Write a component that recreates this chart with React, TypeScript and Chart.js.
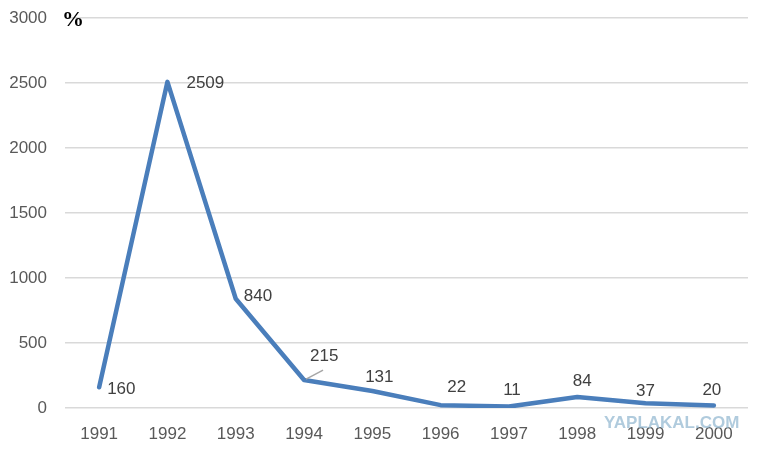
import React, { useEffect, useRef } from "react";
import { Chart, registerables } from "chart.js";

Chart.register(...registerables);

const years = ["1991", "1992", "1993", "1994", "1995", "1996", "1997", "1998", "1999", "2000"];
const values = [160, 2509, 840, 215, 131, 22, 11, 84, 37, 20];
const yTicks = [0, 500, 1000, 1500, 2000, 2500, 3000];
const unitLabel = "%";
const watermark = "YAPLAKAL.COM";

// label placement styles: [dx, dy, align, leader]
const labelStyle: [number, number, CanvasTextAlign, boolean][] = [
  [8, 2, "left", false],
  [19, 1, "left", false],
  [8, -2, "left", false],
  [6, -24, "left", true],
  [7, -14, "center", false],
  [16, -18, "center", false],
  [3, -16, "center", false],
  [5, -16, "center", false],
  [0, -12, "center", false],
  [-2, -15, "center", false],
];

const FONT = "'Liberation Sans', Arial, sans-serif";

const labelPlugin = {
  id: "pointLabels",
  afterDatasetsDraw(chart: any) {
    const ctx = chart.ctx;
    const meta = chart.getDatasetMeta(0);
    ctx.save();
    ctx.font = `17px ${FONT}`;
    ctx.fillStyle = "#404040";
    ctx.textBaseline = "middle";
    meta.data.forEach((pt: any, i: number) => {
      const [dx, dy, align, leader] = labelStyle[i];
      if (leader) {
        ctx.strokeStyle = "#a6a6a6";
        ctx.lineWidth = 1.5;
        ctx.beginPath();
        ctx.moveTo(pt.x + 2, pt.y - 1);
        ctx.lineTo(pt.x + 19, pt.y - 10);
        ctx.stroke();
      }
      ctx.textAlign = align;
      ctx.fillText(String(values[i]), pt.x + dx, pt.y + dy);
    });
    const ca = chart.chartArea;
    ctx.font = `bold 22px 'Liberation Serif', serif`;
    ctx.fillStyle = "#000";
    ctx.textAlign = "left";
    ctx.fillText(unitLabel, ca.left - 3, ca.top + 2);
    ctx.font = `bold 17px ${FONT}`;
    ctx.fillStyle = "rgba(150,185,210,0.75)";
    ctx.textAlign = "left";
    ctx.fillText(watermark, 604, 423);
    ctx.restore();
  },
};

export default function App() {
  const ref = useRef<HTMLCanvasElement>(null);
  useEffect(() => {
    document.body.style.margin = "0";
    const chart = new Chart(ref.current!, {
      type: "line",
      data: {
        labels: years,
        datasets: [
          {
            data: values,
            borderColor: "#4a7ebb",
            borderWidth: 4.5,
            pointRadius: 0,
            tension: 0,
            borderCapStyle: "round",
            borderJoinStyle: "round",
          },
        ],
      },
      options: {
        animation: false,
        responsive: false,
        layout: { padding: { left: 0, right: 19, top: 18, bottom: 0 } },
        plugins: { legend: { display: false }, tooltip: { enabled: false } },
        scales: {
          x: {
            offset: true,
            grid: { display: false, drawTicks: false },
            border: { display: false },
            ticks: { color: "#595959", font: { family: FONT, size: 17 }, padding: 16 },
            afterFit: (s: any) => {
              s.height = 45;
            },
          },
          y: {
            min: 0,
            max: 3000,
            afterBuildTicks: (s: any) => {
              s.ticks = yTicks.map((v) => ({ value: v }));
            },
            grid: { color: "#d9d9d9", lineWidth: 1.5, drawTicks: false },
            border: { display: false },
            ticks: {
              color: "#595959",
              font: { family: FONT, size: 17 },
              padding: 18,
              callback: (v: any) => String(v),
            },
            afterFit: (s: any) => {
              s.width = 65;
              s.paddingTop = 0;
            },
          },
        },
      },
      plugins: [labelPlugin],
    });
    return () => chart.destroy();
  }, []);
  return (
    <div style={{ width: 767, height: 453 }}>
      <canvas ref={ref} width={767} height={453} />
    </div>
  );
}
